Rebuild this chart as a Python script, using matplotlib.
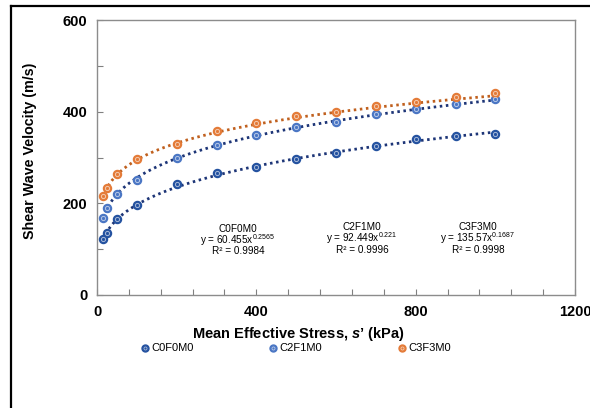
import matplotlib
matplotlib.use("Agg")
import matplotlib.pyplot as plt
import numpy as np
from matplotlib.lines import Line2D

plt.rcParams['font.family'] = ['Liberation Sans', 'DejaVu Sans']
plt.rcParams['mathtext.fontset'] = 'custom'
plt.rcParams['mathtext.rm'] = 'Liberation Sans'
plt.rcParams['mathtext.it'] = 'Liberation Sans:italic:bold'
plt.rcParams['mathtext.bf'] = 'Liberation Sans:bold'

stress = [15, 25, 50, 100, 200, 300, 400, 500, 600, 700, 800, 900, 1000]
series_names = ["C0F0M0", "C2F1M0", "C3F3M0"]
c0f0m0 = [122, 135, 165, 196, 242, 266, 280, 296, 309, 326, 340, 346, 351]
c2f1m0 = [169, 189, 221, 252, 299, 327, 349, 366, 377, 395, 406, 416, 427]
c3f3m0 = [216, 234, 264, 297, 330, 357, 376, 391, 400, 413, 422, 431, 440]
fit_a = [60.455, 92.449, 135.57]
fit_b = [0.2565, 0.221, 0.1687]
fit_a_text = ["60.455", "92.449", "135.57"]
fit_b_text = ["0.2565", "0.221", "0.1687"]
fit_r2 = ["0.9984", "0.9996", "0.9998"]
x_ticklabels = ["0", "400", "800", "1200"]
y_ticklabels = ["0", "200", "400", "600"]

marker_colors = ["#2452A0", "#4A76C4", "#E47B38"]
line_colors = ["#1D3577", "#1D3577", "#C0601E"]

fig = plt.figure(figsize=(5.9, 4.08), dpi=100)
ax = fig.add_axes([97/590, 1-295/408, (575-97)/590, (295-20)/408])

values = [c0f0m0, c2f1m0, c3f3m0]
xs = np.linspace(stress[0], stress[-1], 300)
for i in range(3):
    ax.plot(xs, fit_a[i] * xs ** fit_b[i], linestyle=(0, (0.9, 1.3)), color=line_colors[i],
            linewidth=2.0, zorder=2)
for i, vals in enumerate(values):
    ax.plot(stress, vals, linestyle='none', marker='o', markersize=5.8,
            markerfacecolor=marker_colors[i], markeredgecolor=marker_colors[i], zorder=3)
    ax.plot(stress, vals, linestyle='none', marker='o', markersize=3.0,
            markerfacecolor=marker_colors[i], markeredgecolor=(1, 1, 1, 0.6),
            markeredgewidth=0.7, zorder=4)

ax.set_xlim(0, 1200)
ax.set_ylim(0, 600)
ax.set_xticks(np.arange(0, 1201, 80), minor=True)
ax.set_xticks([0, 400, 800, 1200])
ax.set_xticklabels(x_ticklabels)
ax.set_yticks(np.arange(0, 601, 100), minor=True)
ax.set_yticks([0, 200, 400, 600])
ax.set_yticklabels(y_ticklabels)
ax.tick_params(axis='both', which='both', direction='in', length=4, width=0.8, color='#808080')
ax.tick_params(axis='both', which='major', labelsize=10.5, pad=7)
for lab in ax.get_xticklabels() + ax.get_yticklabels():
    lab.set_fontweight('bold')
for sp in ax.spines.values():
    sp.set_color('#8C8C8C')
    sp.set_linewidth(1.0)

# fit annotations
ann_x = [238, 362, 478]
ann_y = [240, 238, 238]
for i in range(3):
    fx = ann_x[i] / 590
    fy = 1 - ann_y[i] / 408
    fig.text(fx, fy + 11.5/408, series_names[i], ha='center', va='center', fontsize=7.2)
    fig.text(fx, fy, "y = %sx$^{\\mathrm{%s}}$" % (fit_a_text[i], fit_b_text[i]),
             ha='center', va='center', fontsize=7.2)
    fig.text(fx, fy - 11.5/408, "R² = " + fit_r2[i], ha='center', va='center', fontsize=7.2)

fig.text(30.5/590, 1 - 151/408, "Shear Wave Velocity (m/s)", rotation=90, ha='center', va='center',
         fontsize=10.3, fontweight='bold')
fig.text(298/590, 1 - 334/408, "Mean Effective Stress, $\\mathit{s}$\u2019 (kPa)", ha='center', va='center',
         fontsize=10.5, fontweight='bold')

# legend
leg_x = [145, 273, 402]
for i in range(3):
    fx = leg_x[i] / 590
    fy = 1 - 348 / 408
    fig.add_artist(Line2D([fx], [fy], marker='o', markersize=5.0, markerfacecolor=marker_colors[i],
                          markeredgecolor=marker_colors[i], transform=fig.transFigure))
    fig.add_artist(Line2D([fx], [fy], marker='o', markersize=2.2, markerfacecolor=marker_colors[i],
                          markeredgecolor=(1, 1, 1, 0.6), markeredgewidth=0.6, transform=fig.transFigure))
    fig.text(fx + 6/590, fy, series_names[i], ha='left', va='center', fontsize=8)

# outer frame (left and top edges)
fig.add_artist(Line2D([10.5/590, 10.5/590], [0, 1 - 6/408], color='black', linewidth=1.6,
                      transform=fig.transFigure))
fig.add_artist(Line2D([10.5/590, 1], [1 - 6/408, 1 - 6/408], color='black', linewidth=1.6,
                      transform=fig.transFigure))

fig.savefig("out.png", dpi=100)
